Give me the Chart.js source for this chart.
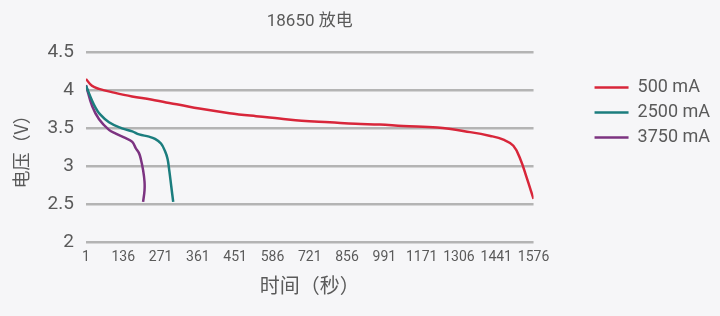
<!DOCTYPE html>
<html>
<head>
<meta charset="utf-8">
<script src="https://cdn.jsdelivr.net/npm/chart.js@4.4.1/dist/chart.umd.min.js"></script>
<style>
  html, body { margin: 0; background: #f6f6f8; }
  #wrap { width: 720px; height: 316px; }
</style>
</head>
<body>
<div id="wrap"><canvas id="chart"></canvas></div>
<script>
// tick labels on the time axis (seconds)
const tickLabels = ['1', '136', '271', '361', '451', '586', '721', '856', '991', '1171', '1306', '1441', '1576'];

const seriesNames = ['500 mA', '2500 mA', '3750 mA'];
const seriesColors = ['#d8263a', '#1b7d7e', '#7c3381'];

// 500 mA discharge
const t500 = [1, 22, 47, 100, 163, 230, 283, 330, 400, 506, 600, 682, 760, 859, 950, 1035, 1117, 1237, 1353, 1424, 1470, 1505, 1530, 1551, 1576];
const v500 = [4.15, 4.06, 4.02, 3.97, 3.92, 3.88, 3.84, 3.81, 3.76, 3.70, 3.66, 3.63, 3.60, 3.58, 3.56, 3.55, 3.53, 3.51, 3.45, 3.40, 3.35, 3.27, 3.09, 2.86, 2.57];

// 2500 mA discharge
const t2500 = [1, 23, 35, 47, 82, 128, 164, 188, 223, 244, 265, 279, 288, 294, 301, 308];
const v2500 = [4.06, 3.86, 3.77, 3.70, 3.58, 3.50, 3.46, 3.42, 3.39, 3.36, 3.30, 3.20, 3.10, 2.95, 2.74, 2.53];

// 3750 mA discharge
const t3750 = [1, 23, 47, 82, 106, 141, 164, 176, 188, 195, 202, 207, 207, 202];
const v3750 = [4.07, 3.79, 3.62, 3.48, 3.43, 3.37, 3.32, 3.24, 3.17, 3.08, 2.95, 2.80, 2.68, 2.53];

const times = [t500, t2500, t3750];
const volts = [v500, v2500, v3750];

const font = "Roboto, 'Noto Sans CJK SC', sans-serif";
const cjkFont = "'Noto Sans CJK SC', Roboto, sans-serif";
const textColor = '#5a5a5a';

const datasets = seriesNames.map((name, i) => ({
  label: name,
  data: times[i].map((t, k) => ({ x: t, y: volts[i][k] })),
  borderColor: seriesColors[i],
  backgroundColor: seriesColors[i],
  borderWidth: 2.5,
  pointRadius: 0,
  showLine: true,
  tension: 0.4,
  xAxisID: 'x',
  yAxisID: 'y'
}));

new Chart(document.getElementById('chart'), {
  type: 'scatter',
  data: { datasets },
  options: {
    responsive: true,
    maintainAspectRatio: false,
    animation: false,
    layout: { padding: { left: 10, right: 0, bottom: 19 } },
    scales: {
      // time in seconds, carries the curves
      x: {
        type: 'linear',
        min: 1,
        max: 1576,
        display: false
      },
      // label row of the time axis
      xl: {
        type: 'category',
        position: 'bottom',
        labels: tickLabels,
        offset: false,
        grid: { display: false, drawTicks: false },
        border: { display: false },
        ticks: {
          autoSkip: false,
          maxRotation: 0,
          padding: 7,
          color: textColor,
          font: { family: font, size: 14 }
        },
        title: {
          display: true,
          text: '时间（秒）',
          color: textColor,
          font: { family: cjkFont, size: 20 },
          padding: { top: 0, bottom: 0 }
        }
      },
      y: {
        min: 2,
        max: 4.5,
        ticks: {
          stepSize: 0.5,
          padding: 12,
          color: textColor,
          font: { family: font, size: 19 },
          callback: (v) => String(v)
        },
        grid: { color: '#b4b4b4', lineWidth: 2.5, drawTicks: false },
        border: { display: false },
        title: {
          display: true,
          text: '电压（V）',
          color: textColor,
          font: { family: cjkFont, size: 18 },
          padding: { top: 0, bottom: 4 }
        }
      },
      // empty space between plot and legend
      gap: {
        type: 'linear',
        position: 'right',
        display: false,
        afterFit: (s) => { s.width = 54; }
      }
    },
    plugins: {
      title: {
        display: true,
        text: '18650 放电',
        color: textColor,
        font: { family: font, size: 17, weight: 'normal' },
        padding: { top: 12, bottom: 20 },
        fullSize: false
      },
      legend: {
        position: 'right',
        align: 'start',
        title: {
          display: true,
          text: '',
          font: { size: 18 },
          padding: { top: 50, bottom: 0 }
        },
        labels: {
          usePointStyle: true,
          pointStyle: 'line',
          pointStyleWidth: 34,
          padding: 7,
          color: textColor,
          font: { family: font, size: 18 }
        }
      },
      tooltip: { enabled: false }
    }
  }
});
</script>
</body>
</html>
